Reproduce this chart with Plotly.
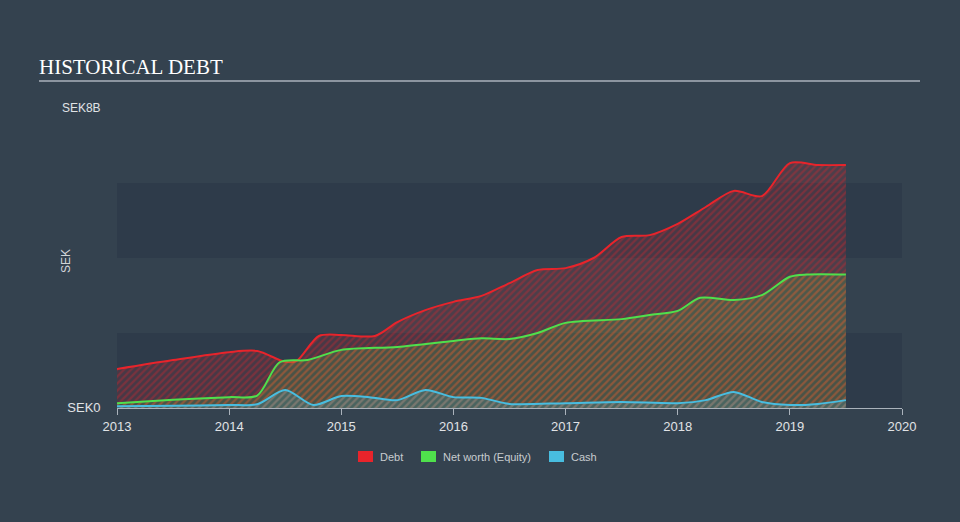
import plotly.graph_objects as go

# quarterly time points (decimal years)
t_debt = [2013.0, 2013.5, 2014.0, 2014.25, 2014.5, 2014.6, 2014.8, 2015.0, 2015.3, 2015.5, 2015.75,
          2016.0, 2016.25, 2016.5, 2016.75, 2017.0, 2017.25, 2017.5, 2017.75, 2018.0, 2018.25,
          2018.5, 2018.75, 2019.0, 2019.25, 2019.5]
debt = [1.04, 1.28, 1.49, 1.52, 1.23, 1.25, 1.92, 1.95, 1.92, 2.29, 2.61,
        2.83, 2.99, 3.33, 3.68, 3.73, 4.0, 4.56, 4.61, 4.91, 5.36,
        5.79, 5.65, 6.53, 6.48, 6.48]

t_eq = [2013.0, 2013.5, 2014.0, 2014.25, 2014.45, 2014.7, 2015.0, 2015.5, 2016.0, 2016.25, 2016.5,
        2016.75, 2017.0, 2017.5, 2017.75, 2018.0, 2018.2, 2018.5, 2018.75, 2019.0, 2019.15, 2019.5]
equity = [0.13, 0.22, 0.29, 0.33, 1.22, 1.28, 1.55, 1.63, 1.79, 1.86, 1.84,
          2.0, 2.27, 2.37, 2.48, 2.59, 2.94, 2.88, 3.01, 3.5, 3.56, 3.56]

t_cash = [2013.0, 2013.5, 2014.0, 2014.25, 2014.5, 2014.75, 2015.0, 2015.25, 2015.5, 2015.75,
          2016.0, 2016.25, 2016.5, 2017.0, 2017.5, 2018.0, 2018.25, 2018.5, 2018.75, 2019.0,
          2019.25, 2019.5]
cash = [0.05, 0.06, 0.08, 0.1, 0.48, 0.08, 0.32, 0.29, 0.21, 0.48,
        0.29, 0.27, 0.11, 0.13, 0.16, 0.13, 0.21, 0.43, 0.16, 0.08,
        0.11, 0.21]

x_ticks = [2013, 2014, 2015, 2016, 2017, 2018, 2019, 2020]
legend_names = ["Debt", "Net worth (Equity)", "Cash"]

B = 1e9
BG = "#34424f"
BAND = "#2e3b4a"

# plot-area pixel geometry (for paper-coordinate helpers)
L, R, T, BOT = 117, 902, 108, 408
def px(x):
    return (x - L) / (R - L)
def py(y):
    return (BOT - y) / (BOT - T)

fig = go.Figure()

series = [
    (t_debt, debt, "#e8242b", "rgba(232,36,43,0.14)", "rgba(232,36,43,0.62)"),
    (t_eq, equity, "#4fe04c", "rgba(79,224,76,0.16)", "rgba(245,130,40,0.38)"),
    (t_cash, cash, "#48bde0", "rgba(72,189,224,0.16)", "rgba(72,189,224,0.35)"),
]
for name, (t, v, col, fc, pc) in zip(legend_names, series):
    fig.add_trace(go.Scatter(
        x=t, y=[val * B for val in v], mode="lines", name=name,
        line=dict(color=col, width=2, shape="spline", smoothing=0.8),
        fill="tozeroy", fillcolor=fc,
        fillpattern=dict(shape="/", fgcolor=pc, bgcolor=fc, size=5, solidity=0.45),
        showlegend=False, hoverinfo="skip"))

fig.add_shape(type="rect", xref="paper", yref="y", x0=0, x1=1, y0=0, y1=2 * B,
              fillcolor=BAND, line_width=0, layer="below")
fig.add_shape(type="rect", xref="paper", yref="y", x0=0, x1=1, y0=4 * B, y1=6 * B,
              fillcolor=BAND, line_width=0, layer="below")
# title underline
fig.add_shape(type="line", xref="paper", yref="paper",
              x0=px(39), x1=px(920), y0=py(81), y1=py(81),
              line=dict(color="#aab2bb", width=1.5))

fig.add_annotation(text="HISTORICAL DEBT", xref="paper", yref="paper",
                   x=px(37), y=py(67), xanchor="left", yanchor="middle",
                   showarrow=False, font=dict(family="Liberation Serif", size=21, color="#ffffff"))
fig.add_annotation(text="SEK", xref="paper", yref="paper",
                   x=px(66), y=py(261), xanchor="center", yanchor="middle",
                   textangle=-90, showarrow=False,
                   font=dict(family="Liberation Sans", size=12, color="#d0d4d8"))

# legend (swatches + labels)
legend_swatch_x = [358, 421, 549]
for name, (t, v, col, fc, pc), sx in zip(legend_names, series, legend_swatch_x):
    fig.add_shape(type="rect", xref="paper", yref="paper",
                  x0=px(sx), x1=px(sx + 15), y0=py(462), y1=py(451),
                  fillcolor=col, line_width=0)
    fig.add_annotation(text=name, xref="paper", yref="paper",
                       x=px(sx + 20), y=py(457), xanchor="left", yanchor="middle",
                       showarrow=False, font=dict(family="Liberation Sans", size=11, color="#c8ccd0"))

fig.update_layout(
    width=960, height=522,
    margin=dict(l=L, r=960 - R, t=T, b=522 - BOT),
    paper_bgcolor=BG, plot_bgcolor=BG,
    font=dict(family="Liberation Sans", color="#d0d4d8", size=12),
    xaxis=dict(range=[2013, 2020], tickvals=x_ticks, ticktext=[str(v) for v in x_ticks],
               showgrid=False, zeroline=False, showline=True, linecolor="#aab2bb", linewidth=1,
               ticks="outside", ticklen=6, tickcolor="#aab2bb",
               tickfont=dict(size=13, color="#e0e3e6")),
    yaxis=dict(range=[0, 8 * B], tickvals=[0, 8 * B],
               ticktext=["<span style='font-size:13px'>SEK0</span>", "SEK8B"],
               showgrid=False, zeroline=False, showline=False,
               ticks="outside", ticklen=13, tickcolor="rgba(0,0,0,0)",
               tickfont=dict(size=12, color="#e0e3e6")),
    showlegend=False,
)

fig.write_html("out.html")
